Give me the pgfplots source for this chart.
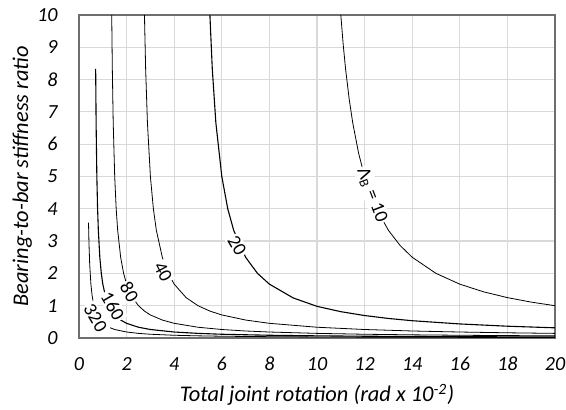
\documentclass[border=0pt]{standalone}
\usepackage{fontspec}
\setmainfont{Carlito}
\usepackage{pgfplots}
\pgfplotsset{compat=1.18}
\definecolor{gridc}{HTML}{D9D9D9}
\definecolor{framec}{HTML}{6E6E6E}
\begin{document}
\begin{tikzpicture}
\useasboundingbox (-39.5pt,-36pt) rectangle (243.5pt,169pt);
\begin{axis}[
  scale only axis, width=238pt, height=161.5pt,
  xmin=0, xmax=20, ymin=0, ymax=10,
  xtick={0,2,...,20}, ytick={0,1,...,10},
  grid=major, major grid style={draw=gridc, line width=0.6pt},
  axis line style={draw=framec, line width=0.7pt},
  major tick length=0pt,
  /pgf/number format/assume math mode=true,
  ticklabel style={font=\fontsize{10}{11}\selectfont\itshape},
  xticklabel style={anchor=base, yshift=-16.5pt},
  yticklabel style={anchor=east, inner sep=0pt, xshift=-10.5pt},
  xlabel={Total joint rotation (rad x 10\textsuperscript{-2})},
  ylabel={Bearing-to-bar stiffness ratio},
  label style={font=\fontsize{11.2}{13}\selectfont\itshape},
  xlabel style={at={(axis description cs:0.5,-0.198)}, anchor=base},
  ylabel style={at={(axis description cs:-0.1071,0.5)}, anchor=base},
  cycle list={{black, line width=0.55pt, no markers}},
]
% Lambda_B = 10
\addplot table {
11 10
11.1 9.09
11.2 8.333
11.35 7.41
11.5 6.667
11.75 5.714
12 5
12.5 4
13 3.333
13.5 2.857
14 2.5
15 2
16 1.667
17 1.429
18 1.25
19 1.111
20 1.0
};
% 20
\addplot table {
5.5 10
5.6 8.333
5.75 6.667
6 5
6.25 4
6.5 3.333
7 2.5
7.5 2
8 1.667
9 1.24
10 0.98
11 0.815
12 0.695
13 0.605
14 0.535
16 0.435
18 0.365
20 0.315
};
% 40
\addplot table {
2.75 10
2.8 8.333
2.875 6.667
3 5
3.125 4
3.25 3.333
3.5 2.5
3.75 2
4 1.667
4.5 1.25
5 1
5.5 0.833
6 0.714
7 0.556
8 0.4545
10 0.333
12 0.263
14 0.217
16 0.185
18 0.161
20 0.143
};
% 80
\addplot table {
1.375 10
1.4 8.333
1.4375 6.667
1.5 5
1.5625 4
1.625 3.333
1.75 2.5
1.875 2
2 1.667
2.25 1.25
2.5 1
2.75 0.833
3 0.714
3.5 0.556
4 0.4545
5 0.333
6 0.263
7 0.217
8 0.185
10 0.143
12 0.116
14 0.098
16 0.0847
18 0.0746
20 0.0667
};
% 160
\addplot table {
0.7 8.333
0.72 6.579
0.75 5
0.78 4.032
0.8125 3.333
0.875 2.5
0.9375 2
1 1.667
1.125 1.25
1.25 1
1.5 0.714
1.75 0.556
2 0.4545
2.5 0.333
3 0.263
4 0.185
5 0.143
6 0.116
8 0.0847
10 0.0667
12 0.0549
14 0.0466
16 0.0407
18 0.036
20 0.0323
};
% 320
\addplot table {
0.4 3.571
0.42 2.907
0.45 2.273
0.5 1.667
0.55 1.316
0.625 1
0.75 0.714
0.875 0.556
1 0.4545
1.25 0.333
1.5 0.263
2 0.185
2.5 0.143
3 0.116
4 0.0847
5 0.0667
6 0.0549
8 0.0407
10 0.0323
12 0.0267
14 0.0228
16 0.0199
18 0.0177
20 0.0159
};
\coordinate (L10) at (axis cs:12.31,4.43);
\coordinate (L20) at (axis cs:6.64,2.85);
\coordinate (L40) at (axis cs:3.53,2.04);
\coordinate (L80) at (axis cs:2.12,1.42);
\coordinate (L160) at (axis cs:1.42,0.99);
\coordinate (L320) at (axis cs:0.69,0.62);
\end{axis}
\tikzset{clab/.style={fill=white, inner sep=0.8pt, font=\fontsize{9.5}{10}\selectfont}}
\node[clab, rotate=-69] at (L10) {Λ\textsubscript{B} = 10};
\node[clab, rotate=-60] at (L20) {20};
\node[clab, rotate=-62] at (L40) {40};
\node[clab, rotate=-60] at (L80) {80};
\node[clab, rotate=-60] at (L160) {160};
\node[clab, rotate=-60] at (L320) {320};
\end{tikzpicture}
\end{document}
